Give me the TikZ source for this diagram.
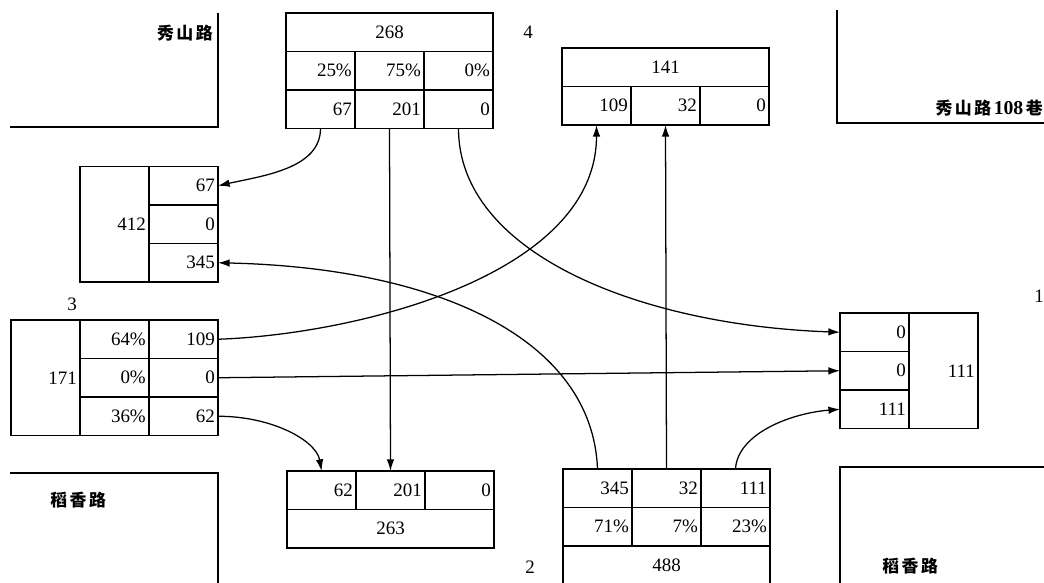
\documentclass[tikz,border=0pt]{standalone}
\usepackage{fontspec}
\setmainfont{Liberation Serif}
\newfontfamily\cjk{Noto Sans CJK SC}
\newcommand\gap{\kern1.8pt}
\usetikzlibrary{arrows.meta}

\begin{document}
\begin{tikzpicture}[
  x=.025cm,y=-.025cm,>=Latex,
  cell/.style={draw,line width=1pt,outer sep=0pt,inner xsep=.08cm,inner ysep=0pt,
    text width=1.565cm,minimum height=.9625cm,align=right,font=\fontsize{13.5}{16}\selectfont},
  wide/.style={cell,text width=5.015cm,align=center},
  tall/.style={cell,minimum height=2.8875cm},
  flow/.style={->,line width=.9pt,>={Latex[length=2.9mm,width=1.9mm]}},
  road/.style={line width=1.5pt},
  street/.style={font=\cjk\bfseries\fontsize{12}{14}\selectfont,inner sep=0pt},
  legno/.style={font=\fontsize{13.5}{16}\selectfont,inner sep=0pt}
]
\useasboundingbox (0,0) rectangle (1044,583);

% Kerb lines of the four corners and the street names.
\draw[road] (10,127) -- (218,127) -- (218,13);
\draw[road] (837,10) -- (837,123) -- (1044,123);
\draw[road] (10,473) -- (218,473) -- (218,583);
\draw[road] (1044,467) -- (840,467) -- (840,583);
\node[street,anchor=east] (rd-nw) at (213,33) {秀\gap 山\gap 路};
\node[street,anchor=east] (rd-ne) at (1043,108)
  {秀\gap 山\gap 路\gap{\rmfamily\fontsize{14}{16}\selectfont 108}\gap 巷};
\node[street,anchor=west] (rd-sw) at (50,500) {稻\gap 香\gap 路};
\node[street,anchor=west] (rd-se) at (882,566) {稻\gap 香\gap 路};

% Approach numbers.
\node[legno] (no4) at (528,32) {4};
\node[legno] (no3) at (72,304) {3};
\node[legno] (no2) at (530,567) {2};
\node[legno] (no1) at (1039,296) {1};

% Approach 4 (north): total, split and volumes.
\node[wide] (n-tot) at (389.5,32.25) {268};
\node[cell] (n-p1) at (320.5,70.75) {25\%};
\node[cell] (n-p2) at (389.5,70.75) {75\%};
\node[cell] (n-p3) at (458.5,70.75) {0\%};
\node[cell] (n-v1) at (320.5,109.25) {67};
\node[cell] (n-v2) at (389.5,109.25) {201};
\node[cell] (n-v3) at (458.5,109.25) {0};

% North exit.
\node[wide] (nx-tot) at (665.5,67.25) {141};
\node[cell] (nx-v1) at (596.5,105.75) {109};
\node[cell] (nx-v2) at (665.5,105.75) {32};
\node[cell] (nx-v3) at (734.5,105.75) {0};

% West exit.
\node[tall] (wx-tot) at (114.5,224.25) {412};
\node[cell] (wx-v1) at (183.5,185.75) {67};
\node[cell] (wx-v2) at (183.5,224.25) {0};
\node[cell] (wx-v3) at (183.5,262.75) {345};

% Approach 3 (west).
\node[tall] (w-tot) at (45.5,377.75) {171};
\node[cell] (w-p1) at (114.5,339.25) {64\%};
\node[cell] (w-p2) at (114.5,377.75) {0\%};
\node[cell] (w-p3) at (114.5,416.25) {36\%};
\node[cell] (w-v1) at (183.5,339.25) {109};
\node[cell] (w-v2) at (183.5,377.75) {0};
\node[cell] (w-v3) at (183.5,416.25) {62};

% East exit.
\node[cell] (ex-v1) at (874.5,332.25) {0};
\node[cell] (ex-v2) at (874.5,370.75) {0};
\node[cell] (ex-v3) at (874.5,409.25) {111};
\node[tall] (ex-tot) at (943.5,370.75) {111};

% South exit.
\node[cell] (sx-v1) at (321.5,490.25) {62};
\node[cell] (sx-v2) at (390.5,490.25) {201};
\node[cell] (sx-v3) at (459.5,490.25) {0};
\node[wide] (sx-tot) at (390.5,528.75) {263};

% Approach 2 (south), cut by the lower edge.
\node[cell] (s-v1) at (597.5,488.25) {345};
\node[cell] (s-v2) at (666.5,488.25) {32};
\node[cell] (s-v3) at (735.5,488.25) {111};
\node[cell] (s-p1) at (597.5,526.75) {71\%};
\node[cell] (s-p2) at (666.5,526.75) {7\%};
\node[cell] (s-p3) at (735.5,526.75) {23\%};
\node[wide] (s-tot) at (666.5,565.25) {488};

% Turning movements.
\draw[flow] (n-v1.south) .. controls +(0,40) and +(45,-10) .. (wx-v1.east);
\draw[flow] (n-v2.south) -- (sx-v2.north);
\draw[flow] (n-v3.south) .. controls +(0,125) and +(-200,-7) .. (ex-v1.west);
\draw[flow] (w-v1.east) .. controls +(140,-5) and +(0,150) .. (nx-v1.south);
\draw[flow] (w-v2.east) -- (ex-v2.west);
\draw[flow] (w-v3.east) .. controls +(55,0) and +(-5,-30) .. (sx-v1.north);
\draw[flow] (s-v1.north) .. controls +(-5,-130) and +(220,5) .. (wx-v3.east);
\draw[flow] (s-v2.north) -- (nx-v2.south);
\draw[flow] (s-v3.north) .. controls +(2,-35) and +(-50,4) .. (ex-v3.west);
\end{tikzpicture}
\end{document}
